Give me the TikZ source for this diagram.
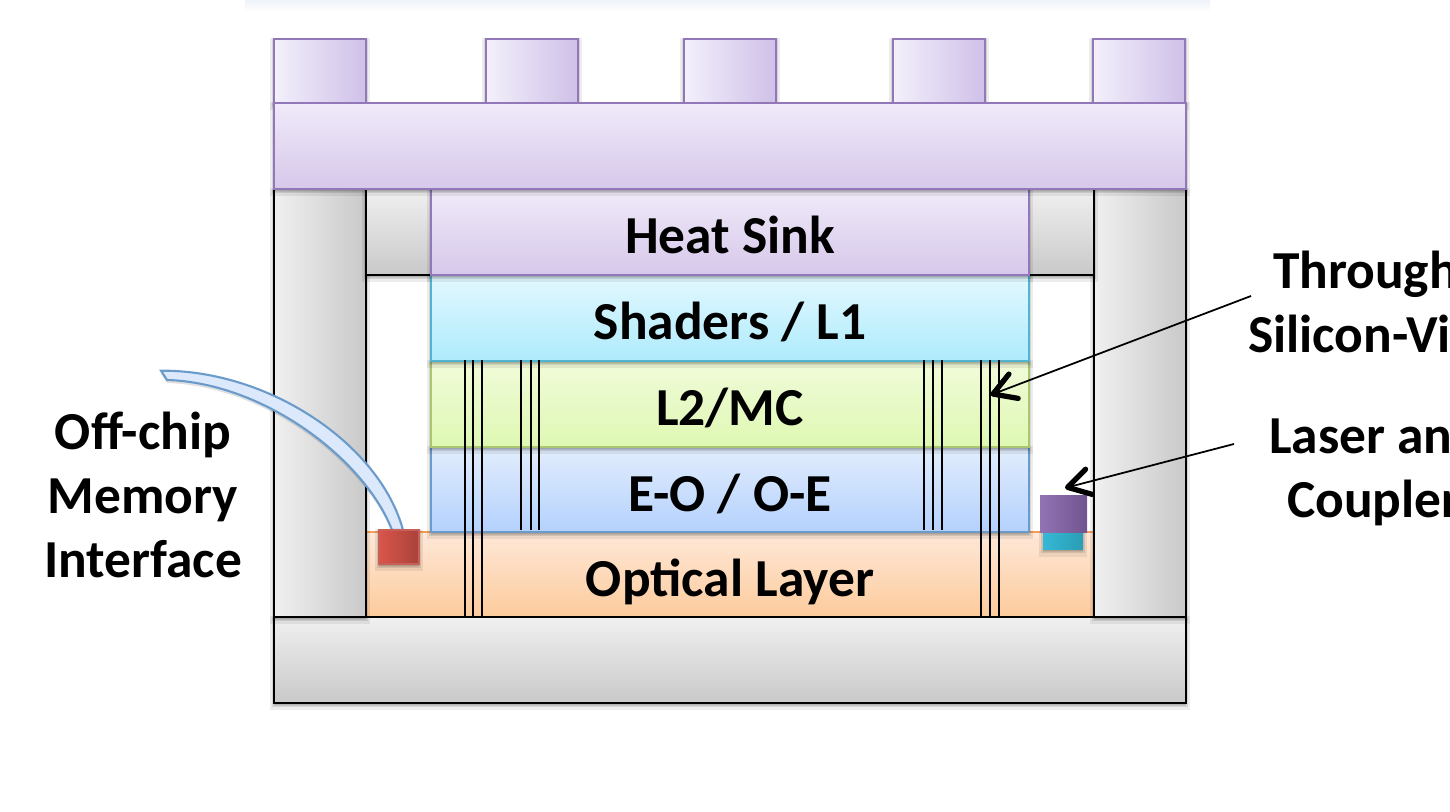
\documentclass[tikz,border=0pt]{standalone}
\usepackage{fontspec}
\setmainfont{Carlito}
\usepackage{tikz}
\usetikzlibrary{arrows.meta}
\definecolor{finleft}{HTML}{F3F0FB}
\definecolor{finright}{HTML}{CFC0E8}
\definecolor{sinktop}{HTML}{F0EAF9}
\definecolor{sinkbot}{HTML}{D6C8EA}
\definecolor{sinkline}{HTML}{9278B8}
\definecolor{shadertop}{HTML}{E3F8FE}
\definecolor{shaderbot}{HTML}{AEEBFD}
\definecolor{shaderline}{HTML}{52B4CE}
\definecolor{greentop}{HTML}{F1FBDA}
\definecolor{greenbot}{HTML}{DEF8B2}
\definecolor{greenline}{HTML}{AAC670}
\definecolor{bluetop}{HTML}{E2EDFD}
\definecolor{bluebot}{HTML}{B4D1FD}
\definecolor{blueline}{HTML}{6A9BCB}
\definecolor{orangetop}{HTML}{FEE8D8}
\definecolor{orangebot}{HTML}{FDCB9C}
\definecolor{orangeline}{HTML}{F59D56}
\definecolor{graylight}{HTML}{F0F0F0}
\definecolor{graydark}{HTML}{C9C9C9}
\definecolor{ghost}{HTML}{EEF2FA}
\definecolor{linkfill}{HTML}{DCE9FC}
\definecolor{redleft}{HTML}{D9554B}
\definecolor{redright}{HTML}{A9423A}
\definecolor{redline}{HTML}{C8605A}
\definecolor{purpleleft}{HTML}{9272B4}
\definecolor{purpleright}{HTML}{70558F}
\definecolor{cyanleft}{HTML}{35B8D6}
\definecolor{cyanright}{HTML}{2A9DB4}

\begin{document}
\begin{tikzpicture}[
    softshadow/.style={
      preaction={fill=black,draw=black,opacity=0.07,line width=2.4pt,transform canvas={yshift=-0.03cm}},
      preaction={fill=black,draw=black,opacity=0.10,line width=1.0pt,transform canvas={yshift=-0.02cm}}},
    slab/.style={rectangle,inner sep=0pt,outer sep=0pt,line width=0.6pt,softshadow},
    named/.style={font=\fontsize{15.2}{18.2}\selectfont\bfseries,text height=0.44cm,text depth=0cm},
    greyblock/.style={slab,draw=black,line width=0.5pt},
    finblock/.style={slab,draw=sinkline,left color=finleft,right color=finright,
      minimum width=0.92cm,minimum height=0.64cm},
    sinkblock/.style={slab,draw=sinkline,top color=sinktop,bottom color=sinkbot,minimum height=0.86cm},
    tag/.style={inner sep=0pt,outer sep=0pt,align=center,
      font=\fontsize{15.2}{18.2}\selectfont\bfseries},
    callout/.style={-{Straight Barb[length=2.2mm,width=2.6mm,line width=1.5pt,round]},line width=0.5pt},
    tsv/.style={line width=0.5pt}
  ]
  \useasboundingbox (0,0) rectangle (14.5,8.12);
  \fill[top color=ghost,bottom color=white] (2.45,8.12) rectangle (12.10,8.00);
  % bottom of the stack
  \node[slab,named,top color=orangetop,bottom color=orangebot,minimum width=7.28cm,minimum height=0.85cm]
    (optical) at (7.30,2.375) {Optical Layer};
  \draw[orangeline,line width=0.6pt] (optical.north west) -- (optical.north east);
  \node[greyblock,top color=graylight,bottom color=graydark,minimum width=9.12cm,minimum height=0.86cm]
    (base) at (7.30,1.52) {};
  \node[greyblock,left color=graylight,right color=graydark,minimum width=0.92cm,minimum height=4.28cm]
    (pillarl) at (3.20,4.09) {};
  \node[greyblock,left color=graylight,right color=graydark,minimum width=0.92cm,minimum height=4.28cm]
    (pillarr) at (11.40,4.09) {};
  \node[greyblock,top color=graylight,bottom color=graydark,minimum width=0.65cm,minimum height=0.86cm]
    (blockl) at (3.985,5.80) {};
  \node[greyblock,top color=graylight,bottom color=graydark,minimum width=0.65cm,minimum height=0.86cm]
    (blockr) at (10.615,5.80) {};
  % die layers
  \node[slab,named,draw=blueline,top color=bluetop,bottom color=bluebot,minimum width=5.98cm,minimum height=0.85cm]
    (eo) at (7.30,3.225) {E-O / O-E};
  \node[slab,named,draw=greenline,top color=greentop,bottom color=greenbot,minimum width=5.98cm,minimum height=0.86cm]
    (ltwo) at (7.30,4.08) {L2/MC};
  \node[slab,named,draw=shaderline,top color=shadertop,bottom color=shaderbot,minimum width=5.98cm,minimum height=0.86cm]
    (shaders) at (7.30,4.94) {Shaders / L1};
  \node[sinkblock,named,minimum width=5.98cm] (sink) at (7.30,5.80) {Heat Sink};
  % fins
  \foreach \x [count=\i] in {3.20,5.32,7.30,9.39,11.39}
    \node[finblock] (fin\i) at (\x,7.41) {};
  \node[sinkblock,minimum width=9.12cm] (topbar) at (7.30,6.66) {};
  % vias
  \foreach \x in {4.65,4.73,4.82,9.81,9.90,9.99}
    \draw[tsv] (\x,4.52) -- (\x,1.95);
  \foreach \x in {5.21,5.31,5.39,9.24,9.33,9.42}
    \draw[tsv] (\x,4.52) -- (\x,2.82);
  % memory link
  \draw[draw=blueline,line width=0.6pt,fill=linkfill,
      preaction={fill=black,opacity=0.12,transform canvas={yshift=-0.03cm}}]
    (1.61,4.413) .. controls (2.70,4.42) and (3.80,3.67) .. (4.03,2.82)
    -- (3.92,2.82) .. controls (3.65,3.52) and (2.65,4.29) .. (1.67,4.32) -- cycle;
  \node[slab,draw=redline,left color=redleft,right color=redright,
      minimum width=0.40cm,minimum height=0.34cm] (memport) at (3.99,2.65) {};
  \node[slab,left color=cyanleft,right color=cyanright,
      minimum width=0.40cm,minimum height=0.17cm] (coupler) at (10.63,2.71) {};
  \node[left color=purpleleft,right color=purpleright,inner sep=0pt,outer sep=0pt,
      minimum width=0.47cm,minimum height=0.37cm] (laser) at (10.635,2.975) {};
  % labels
  \node[tag] (memlabel) at (1.43,3.17) {Off-chip\\Memory\\Interface};
  \node[tag,anchor=west,align=left] (tsvlabel) at (12.48,5.10) {\hspace*{0.25cm}Through\\Silicon-Vi};
  \node[tag,anchor=west,align=left] (laserlabel) at (12.69,3.40) {Laser an\\\hspace*{0.18cm}Coupler};
  \coordinate (tsvtip) at (9.905,4.17);
  \draw[callout] ([xshift=0.03cm,yshift=0.06cm]tsvlabel.west) -- (tsvtip);
  \draw[callout] ([xshift=-0.35cm,yshift=0.28cm]laserlabel.west) -- ([xshift=0.015cm,yshift=0.08cm]laser.north);
\end{tikzpicture}
\end{document}
